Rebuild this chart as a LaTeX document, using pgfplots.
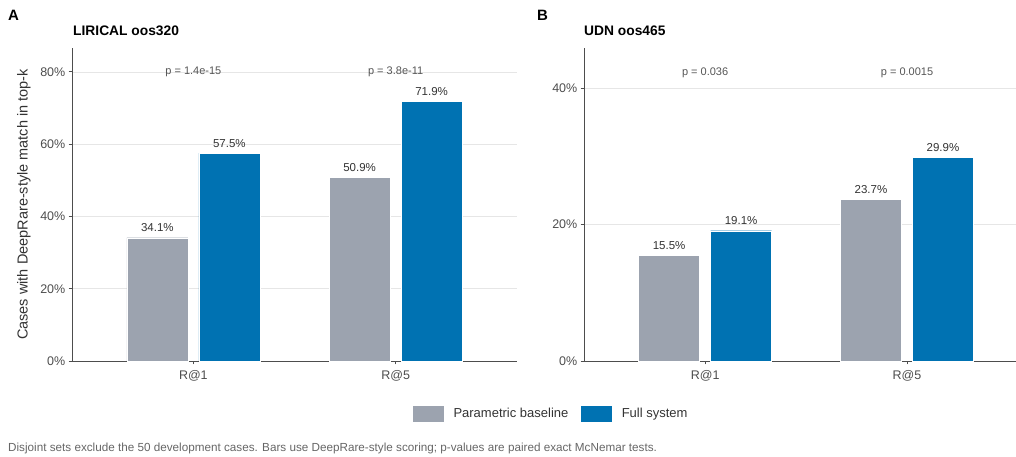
\documentclass[border=0pt]{standalone}
\usepackage{pgfplots}
\pgfplotsset{compat=1.18}
\usepackage{fontspec}
\setmainfont{Liberation Sans}

\definecolor{basegrey}{HTML}{9CA3AF}
\definecolor{fullblue}{HTML}{0072B2}
\definecolor{axisgrey}{HTML}{4D4D4D}
\definecolor{gridgrey}{HTML}{E6E6E6}
\definecolor{textdark}{HTML}{333333}
\definecolor{pgrey}{HTML}{555555}
\definecolor{capgrey}{HTML}{666666}

\tikzset{
  plab/.style={font=\fontsize{11}{13}\selectfont, text=pgrey, inner sep=0pt, anchor=center},
}

\pgfplotsset{
  panel/.style={
    scale only axis,
    height=313pt,
    anchor=south west,
    xmin=0.4,
    ymin=0,
    axis x line*=bottom,
    axis y line*=left,
    axis line style={-, draw=axisgrey, line width=0.8pt},
    tick style={draw=axisgrey, line width=0.8pt},
    tick align=outside,
    major tick length=3.5pt,
    xtick={1,2},
    xticklabels={R@1,R@5},
    ymajorgrids,
    grid style={draw=gridgrey, line width=0.6pt},
    ticklabel style={font=\fontsize{12.5}{14}\selectfont, text=axisgrey},
    xticklabel style={inner sep=0pt, yshift=-5.5pt},
    yticklabel style={inner sep=0pt, xshift=-3pt},
    /pgf/number format/assume math mode=true,
    ybar=11pt,
    bar width=61pt,
    clip=false,
    nodes near coords={\pgfmathprintnumber[fixed,precision=1,fixed zerofill]{\pgfplotspointmeta}\%},
    every node near coord/.append style={font=\fontsize{11.5}{13}\selectfont, text=textdark, inner sep=0pt, anchor=south, yshift=5.5pt},
    legend image code/.code={\fill[##1] (0pt,-8.5pt) rectangle (32pt,8.5pt);},
  },
  basebar/.style={fill=basegrey, draw=white, line width=0.4pt},
  fullbar/.style={fill=fullblue, draw=white, line width=0.4pt},
}

\begin{document}
\begin{tikzpicture}[x=1pt,y=1pt]
\path[use as bounding box] (0,0) rectangle (1016,457);

% Panel A: LIRICAL out-of-sample set
\begin{axis}[panel,
  at={(72pt,96pt)}, width=445pt,
  xmax=2.6, ymax=86.6,
  ytick={0,20,40,60,80},
  yticklabels={0\%,20\%,40\%,60\%,80\%},
  ylabel={Cases with DeepRare-style match in top-k},
  ylabel style={font=\fontsize{14.5}{16}\selectfont, text=textdark, at={(axis description cs:-0.108,0.5)}, anchor=center, inner sep=0pt, rotate=0},
  legend columns=2,
  legend style={at={(1.076,-0.168)}, anchor=center, draw=none, fill=none,
    font=\fontsize{13}{15}\selectfont, text=textdark,
    /tikz/every even column/.append style={column sep=10pt},
    /tikz/every odd column/.append style={column sep=7pt},
    legend cell align=left},
]
\addplot[basebar] coordinates {(1,34.1) (2,50.9)};
\addplot[fullbar] coordinates {(1,57.5) (2,71.9)};
\legend{Parametric baseline, Full system}
\node[plab] at (axis cs:1,80) {p = 1.4e-15};
\node[plab] at (axis cs:2,80) {p = 3.8e-11};
\end{axis}

% Panel B: UDN out-of-sample set
\begin{axis}[panel,
  at={(584pt,96pt)}, width=432pt,
  xmax=2.54, ymax=45.9,
  ytick={0,20,40},
  yticklabels={0\%,20\%,40\%},
]
\addplot[basebar] coordinates {(1,15.5) (2,23.7)};
\addplot[fullbar] coordinates {(1,19.1) (2,29.9)};
\node[plab] at (axis cs:1,42.3) {p = 0.036};
\node[plab] at (axis cs:2,42.3) {p = 0.0015};
\end{axis}

% Panel letters and titles
\node[anchor=base west, inner sep=0pt, font=\fontsize{15}{17}\selectfont\bfseries, text=black] at (8,436) {A};
\node[anchor=base west, inner sep=0pt, font=\fontsize{15}{17}\selectfont\bfseries, text=black] at (537,436) {B};
\node[anchor=base west, inner sep=0pt, font=\fontsize{13.8}{15}\selectfont\bfseries, text=black] at (73,421) {LIRICAL oos320};
\node[anchor=base west, inner sep=0pt, font=\fontsize{13.8}{15}\selectfont\bfseries, text=black] at (584,421) {UDN oos465};

% Footnote
\node[anchor=base west, inner sep=0pt, font=\fontsize{11.7}{13}\selectfont, text=capgrey] at (8,5)
  {Disjoint sets exclude the 50 development cases. Bars use DeepRare-style scoring; p-values are paired exact McNemar tests.};
\end{tikzpicture}
\end{document}
